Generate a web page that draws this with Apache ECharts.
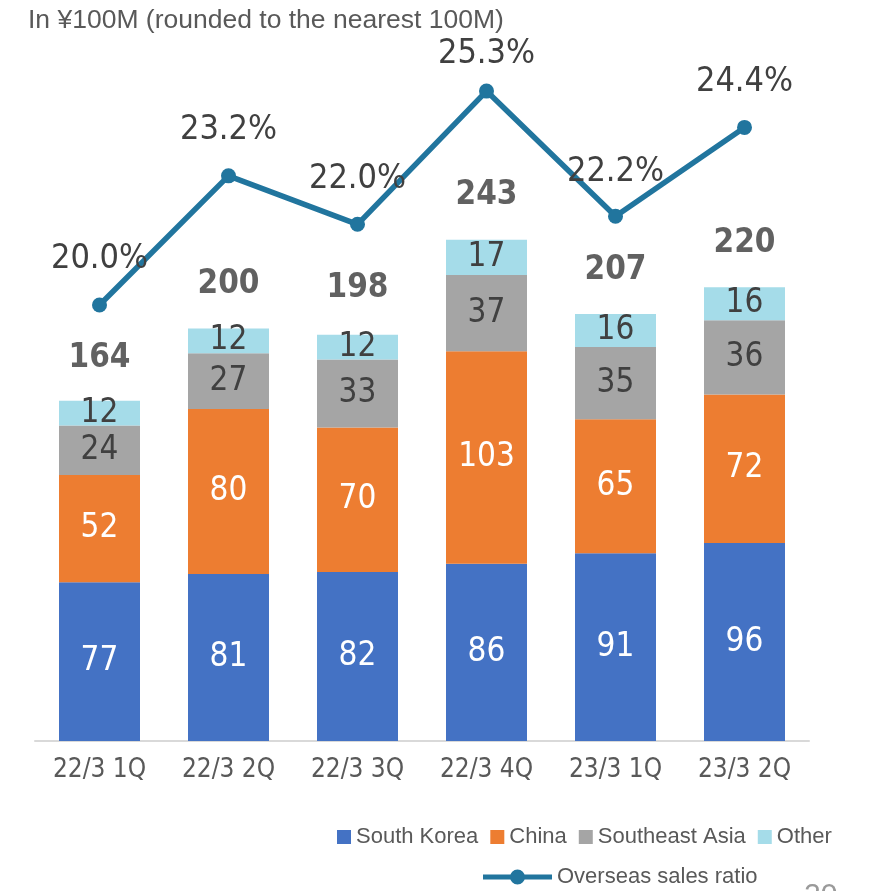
<!DOCTYPE html>
<html><head><meta charset="utf-8">
<script src="https://cdn.jsdelivr.net/npm/echarts@6/dist/echarts.min.js"></script>
<style>html,body{margin:0;padding:0;background:#fff}#c{width:878px;height:891px}</style>
</head><body><div id="c"></div>
<script>
const categories = ['22/3 1Q','22/3 2Q','22/3 3Q','22/3 4Q','23/3 1Q','23/3 2Q'];
const southKorea = [77, 81, 82, 86, 91, 96];
const china = [52, 80, 70, 103, 65, 72];
const southeastAsia = [24, 27, 33, 37, 35, 36];
const other = [12, 12, 12, 17, 16, 16];
const totals = [164, 200, 198, 243, 207, 220];
const overseasRatio = [20.0, 23.2, 22.0, 25.3, 22.2, 24.4];

const LABEL_FONT = 'DejaVu Sans Condensed';
const chart = echarts.init(document.getElementById('c'));
const segLabel = (color) => ({show:true, position:'inside', color:color, fontFamily:LABEL_FONT, fontSize:33});
function barSeries(name, data, color, labelColor){
  return {name, type:'bar', stack:'s', data, barWidth:81, itemStyle:{color}, label:segLabel(labelColor), emphasis:{disabled:true}};
}
const lineColor = '#21759E';
const lineIcon = 'path://M0,5L69,5L69,10L0,10Z M27,7.5A7.5,7.5,0,0,1,42,7.5A7.5,7.5,0,0,1,27,7.5Z';
const ratioLabelDistance = [21, 21, 21, 12, 20, 21];
chart.setOption({
  animation:false,
  grid:{left:35, right:69, top:81, bottom:150},
  title:{text:'In ¥100M (rounded to the nearest 100M)', left:23, top:2,
    textStyle:{fontFamily:'Liberation Sans', fontSize:26.5, fontWeight:'normal', color:'#595959'}},
  legend:[
    {data:['South Korea','China','Southeast Asia','Other'], left:337, top:826, padding:0, icon:'rect', itemWidth:14, itemHeight:14, itemGap:12,
      textStyle:{fontFamily:'Liberation Sans', fontSize:22, color:'#595959'}},
    {data:[{name:'Overseas sales ratio', icon:lineIcon}], left:483, top:866, padding:0, itemWidth:69, itemHeight:15, itemGap:5,
      itemStyle:{color:lineColor},
      textStyle:{fontFamily:'Liberation Sans', fontSize:22, color:'#595959'}}
  ],
  xAxis:{type:'category', data:categories,
    axisLine:{lineStyle:{color:'#D9D9D9', width:2}}, axisTick:{show:false},
    axisLabel:{color:'#595959', fontFamily:LABEL_FONT, fontSize:26, margin:16}},
  yAxis:[
    {type:'value', min:0, max:320, show:false, splitLine:{show:false}},
    {type:'value', min:9.2, max:25.55, show:false, splitLine:{show:false}}
  ],
  graphic:[{type:'text', left:804, top:881, style:{text:'20', fontFamily:'Liberation Sans', fontSize:30, fill:'#9a9a9a'}}],
  series:[
    barSeries('South Korea', southKorea, '#4472C4', '#ffffff'),
    barSeries('China', china, '#ED7D31', '#ffffff'),
    barSeries('Southeast Asia', southeastAsia, '#A5A5A5', '#404040'),
    barSeries('Other', other, '#A5DCE9', '#404040'),
    {name:'total', type:'scatter', data:totals, symbolSize:1, itemStyle:{color:'rgba(0,0,0,0)'}, silent:true,
      label:{show:true, position:'inside', offset:[0,-44], formatter:(p)=>String(p.value),
        fontFamily:LABEL_FONT, fontWeight:'bold', fontSize:33, color:'#3a3a3a'}},
    {name:'Overseas sales ratio', type:'line', yAxisIndex:1,
      data:overseasRatio.map((v,i)=>({value:v, label:{distance:ratioLabelDistance[i]}})),
      symbol:'circle', symbolSize:15,
      lineStyle:{color:lineColor, width:5.5}, itemStyle:{color:lineColor},
      label:{show:true, position:'top', formatter:(p)=>p.value.toFixed(1)+'%',
        fontFamily:LABEL_FONT, fontSize:34, color:'#404040'}}
  ]
});
</script></body></html>
